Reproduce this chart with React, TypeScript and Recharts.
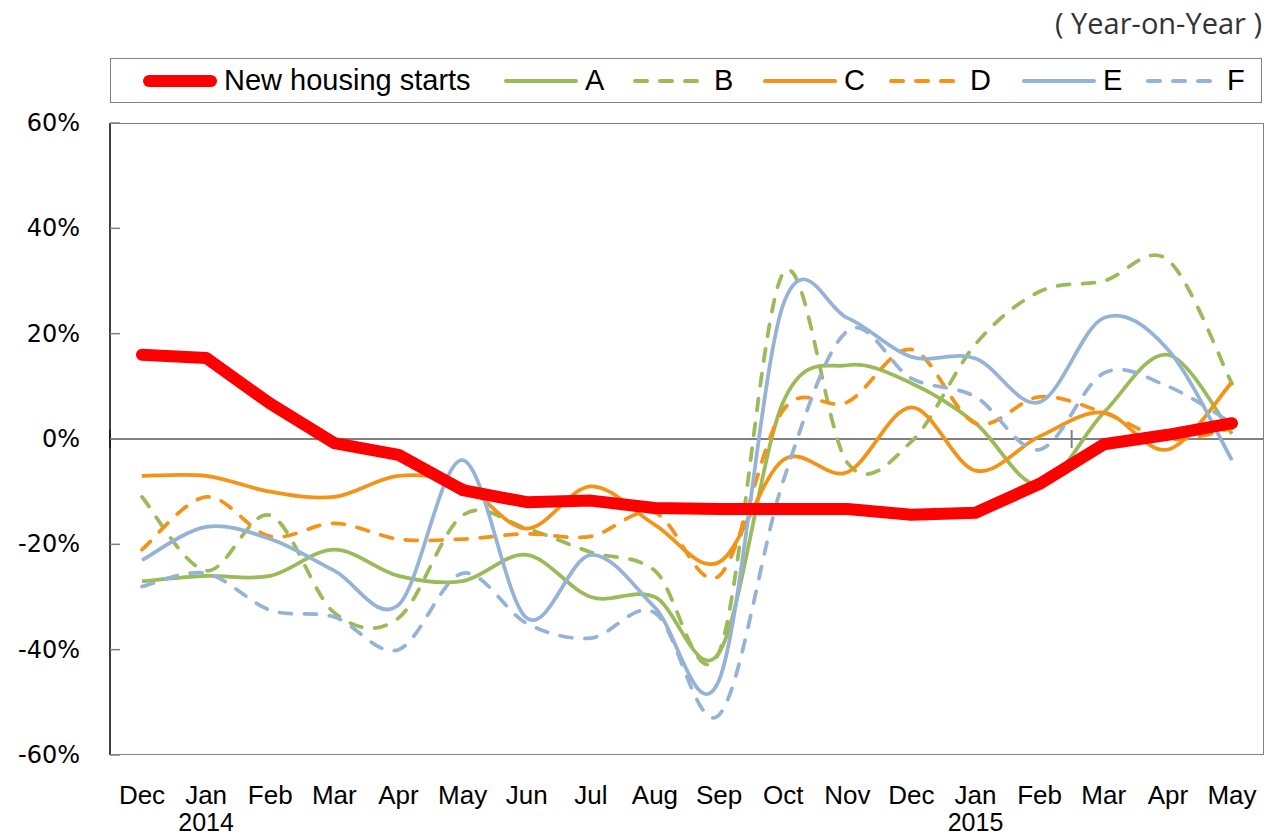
import React from 'react';
import { LineChart, Line, XAxis, YAxis, ReferenceLine } from 'recharts';

const months = ['Dec', 'Jan', 'Feb', 'Mar', 'Apr', 'May', 'Jun', 'Jul', 'Aug', 'Sep', 'Oct', 'Nov', 'Dec', 'Jan', 'Feb', 'Mar', 'Apr', 'May'];
const years = ['', '2014', '', '', '', '', '', '', '', '', '', '', '', '2015', '', '', '', ''];

const housingStarts = [16, 15.4, 6.7, -0.8, -3, -9.7, -12, -11.7, -13.1, -13.3, -13.3, -13.3, -14.4, -14, -8.5, -1, 0.8, 3];
const seriesA = [-27, -26, -26, -21, -26, -27, -22, -30, -30, -40.6, 7, 14, 10.6, 3, -8.7, 5, 16, 1];
const seriesB = [-11, -25, -14.5, -33, -34, -14.5, -17, -21.5, -25, -40.5, 31.5, -4.5, -0.5, 18, 28, 30, 34, 10.5];
const seriesC = [-7, -7, -10, -11, -7, -8.7, -17, -9, -16.3, -23.4, -4, -6.3, 6, -6, 0.5, 5, -2, 10.8];
const seriesD = [-21, -11, -18.5, -16, -19, -19, -18, -18.5, -14, -26, 5.5, 7, 17, 3, 8, 5, 0, 2];
const seriesE = [-23, -16.7, -19, -25, -31.5, -4, -34, -22, -32, -45.8, 25.5, 23, 15.6, 15.3, 7, 23, 17, -4];
const seriesF = [-28, -25.5, -32.5, -33.8, -40, -25.5, -35, -37.8, -33, -52.4, -8, 20.5, 11.5, 8, -2, 12.5, 10, 3];

const yTicks = [-60, -40, -20, 0, 20, 40, 60];

const data = months.map((m, i) => ({
  period: `${m}-${i}`,
  starts: housingStarts[i],
  A: seriesA[i],
  B: seriesB[i],
  C: seriesC[i],
  D: seriesD[i],
  E: seriesE[i],
  F: seriesF[i],
}));

const GREEN = '#9bbb59';
const ORANGE = '#f39317';
const BLUE = '#95b3d7';
const DASH = '12 13';
const SANS = "'Liberation Sans', Arial, sans-serif";

const legendItems = [
  { name: 'New housing starts', color: '#ff0000', width: 12, dash: undefined, left: 31 },
  { name: 'A', color: GREEN, width: 4, dash: undefined, left: 392 },
  { name: 'B', color: GREEN, width: 4, dash: DASH, left: 521 },
  { name: 'C', color: ORANGE, width: 4, dash: undefined, left: 651 },
  { name: 'D', color: ORANGE, width: 4, dash: DASH, left: 777 },
  { name: 'E', color: BLUE, width: 4, dash: undefined, left: 910 },
  { name: 'F', color: BLUE, width: 4, dash: DASH, left: 1034 },
];

// Excel-like smoothing (Catmull-Rom through every point)
const excelSmooth = (context: any) => {
  let pts: [number, number][] = [];
  return {
    areaStart() {},
    areaEnd() {},
    lineStart() {
      pts = [];
    },
    point(x: number, y: number) {
      pts.push([+x, +y]);
    },
    lineEnd() {
      const n = pts.length;
      if (!n) return;
      context.moveTo(pts[0][0], pts[0][1]);
      for (let i = 0; i < n - 1; i++) {
        const p0 = pts[i - 1] || pts[i];
        const p1 = pts[i];
        const p2 = pts[i + 1];
        const p3 = pts[i + 2] || p2;
        context.bezierCurveTo(
          p1[0] + (p2[0] - p0[0]) / 6,
          p1[1] + (p2[1] - p0[1]) / 6,
          p2[0] - (p3[0] - p1[0]) / 6,
          p2[1] - (p3[1] - p1[1]) / 6,
          p2[0],
          p2[1]
        );
      }
    },
  };
};

const MonthTick = ({ x, y, index }: any) => (
  <g>
    <text x={x} y={y + 41} textAnchor="middle" fontFamily={SANS} fontSize={26} fill="#000">
      {months[index]}
    </text>
    {years[index] && (
      <text x={x} y={y + 68} textAnchor="middle" fontFamily={SANS} fontSize={25} fill="#000">
        {years[index]}
      </text>
    )}
  </g>
);

const PercentTick = ({ x, y, payload }: any) => (
  <g>
    <line x1={x + 2} x2={x + 12} y1={y} y2={y} stroke="#808080" strokeWidth={1.5} />
    <text x={x - 28} y={y + 8} textAnchor="end" fontFamily="'DejaVu Sans', sans-serif" fontSize={24} fill="#000">
      {`${payload.value}%`}
    </text>
  </g>
);

const ZeroTicks = ({ viewBox }: any) => {
  if (!viewBox) return null;
  const step = viewBox.width / months.length;
  return (
    <g>
      {[0, 15].map((k) => (
        <line key={k} x1={viewBox.x + step * k} x2={viewBox.x + step * k} y1={viewBox.y - 9} y2={viewBox.y + 9} stroke="#808080" strokeWidth={2} />
      ))}
    </g>
  );
};

const LegendBox = () => (
  <div
    style={{
      position: 'absolute',
      left: 102,
      top: 50,
      width: 1152,
      height: 45,
      border: '1px solid #808080',
      boxSizing: 'border-box',
      fontFamily: SANS,
      fontSize: 29,
    }}
  >
    {legendItems.map((item) => (
      <div key={item.name} style={{ position: 'absolute', left: item.left, top: 0, height: 43, display: 'flex', alignItems: 'center', whiteSpace: 'nowrap' }}>
        <svg width={76} height={20} style={{ marginRight: 6 }}>
          <line x1={item.width / 2 + 1} x2={76 - item.width / 2 - 1} y1={10} y2={10} stroke={item.color} strokeWidth={item.width} strokeLinecap="round" strokeDasharray={item.dash} />
        </svg>
        <span>{item.name}</span>
      </div>
    ))}
  </div>
);

export default function App() {
  const W = 1265;
  const H = 832;
  return (
    <div style={{ position: 'relative', width: W, height: H }}>
      <div
        style={{
          position: 'absolute',
          right: 11,
          top: -5,
          fontFamily: "'Open Sans', 'Noto Sans', sans-serif",
          fontSize: 29,
          color: '#333',
          whiteSpace: 'nowrap',
        }}
      >
        ( Year-on-Year )
      </div>
      <LegendBox />
      <LineChart width={W} height={H} data={data} margin={{ top: 115, right: 9, left: 0, bottom: 0 }}>
        <XAxis dataKey="period" height={85} interval={0} axisLine={false} tickLine={false} padding={{ left: 32, right: 32 }} tick={<MonthTick />} />
        <YAxis
          domain={[-60, 60]}
          ticks={yTicks}
          width={102}
          axisLine={{ stroke: '#000', strokeWidth: 1.5 }}
          tickLine={false}
          tickSize={0}
          tick={<PercentTick />}
          interval={0}
        />
        <ReferenceLine y={0} stroke="#808080" strokeWidth={2} label={<ZeroTicks />} />
        <Line dataKey="A" stroke={GREEN} strokeWidth={3.75} type={excelSmooth as any} dot={false} isAnimationActive={false} />
        <Line dataKey="B" stroke={GREEN} strokeWidth={3.75} strokeDasharray={DASH} strokeLinecap="round" type={excelSmooth as any} dot={false} isAnimationActive={false} />
        <Line dataKey="C" stroke={ORANGE} strokeWidth={3.75} type={excelSmooth as any} dot={false} isAnimationActive={false} />
        <Line dataKey="D" stroke={ORANGE} strokeWidth={3.75} strokeDasharray={DASH} strokeLinecap="round" type={excelSmooth as any} dot={false} isAnimationActive={false} />
        <Line dataKey="E" stroke={BLUE} strokeWidth={3.75} type={excelSmooth as any} dot={false} isAnimationActive={false} />
        <Line dataKey="F" stroke={BLUE} strokeWidth={3.75} strokeDasharray={DASH} strokeLinecap="round" type={excelSmooth as any} dot={false} isAnimationActive={false} />
        <Line dataKey="starts" stroke="#ff0000" strokeWidth={12} strokeLinecap="round" strokeLinejoin="round" type="linear" dot={false} isAnimationActive={false} />
      </LineChart>
      <div
        style={{
          position: 'absolute',
          left: 102,
          top: 115,
          width: 1154,
          height: 632,
          borderTop: '1px solid #808080',
          borderRight: '1px solid #808080',
          borderBottom: '1px solid #808080',
          boxSizing: 'border-box',
          pointerEvents: 'none',
        }}
      />
    </div>
  );
}
